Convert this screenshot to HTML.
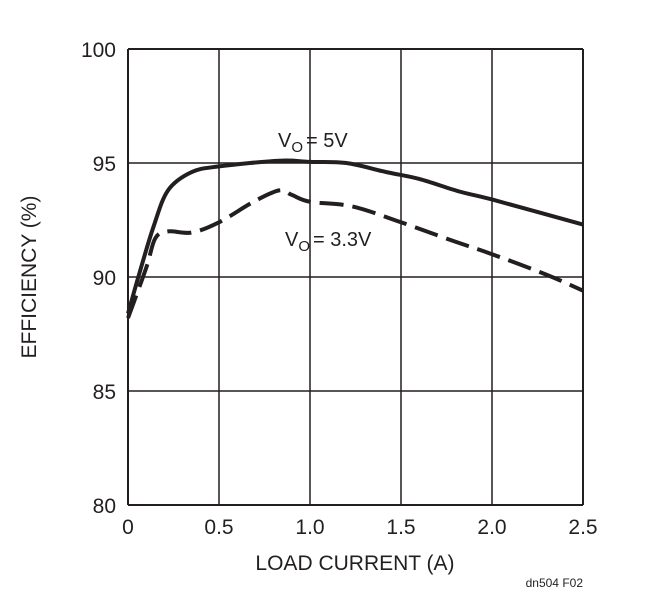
<!DOCTYPE html>
<html><head><meta charset="utf-8"><style>
body{margin:0;background:#fff;}
svg text{font-family:"Liberation Sans",sans-serif;fill:#231f20;}
</style></head><body>
<svg width="657" height="600" viewBox="0 0 657 600" id="chart">
<rect x="0" y="0" width="657" height="600" fill="#fff"/>
<g id="grid"></g>
<g id="ticks"></g>
<g id="series"></g>
<text x="355" y="570" font-size="21" text-anchor="middle">LOAD CURRENT (A)</text>
<text transform="translate(36,277) rotate(-90)" font-size="21" text-anchor="middle">EFFICIENCY (%)</text>
<text x="278" y="147" font-size="20">V<tspan font-size="15" dy="5">O</tspan><tspan dy="-5" dx="3">= 5V</tspan></text>
<text x="285" y="246" font-size="20">V<tspan font-size="15" dy="5">O</tspan><tspan dy="-5" dx="3">= 3.3V</tspan></text>
<text x="583" y="587" font-size="12" text-anchor="end">dn504 F02</text>
</svg>
<script>
const xTicks=[0,0.5,1.0,1.5,2.0,2.5];
const xTickLabels=["0","0.5","1.0","1.5","2.0","2.5"];
const yTicks=[80,85,90,95,100];
const yTickLabels=["80","85","90","95","100"];
const x5=[0,0.064,0.14,0.22,0.35,0.5,0.83,1.0,1.2,1.42,1.6,1.82,2.0,2.5];
const y5=[88.4,90.2,92.2,93.8,94.6,94.85,95.1,95.05,95.0,94.6,94.3,93.75,93.4,92.3];
const x33=[0,0.1,0.15,0.22,0.35,0.5,0.69,0.83,0.9,1.0,1.23,1.5,1.78,2.0,2.3,2.5];
const y33=[88.2,90.4,91.7,92.0,91.95,92.4,93.3,93.8,93.6,93.3,93.1,92.4,91.6,91.0,90.1,89.4];
const L=128,R=583,T=49,B=505;
const sx=v=>L+(v-0)/(2.5)*(R-L);
const sy=v=>B-(v-80)/20*(B-T);
const NS="http://www.w3.org/2000/svg";
function mk(tag,parent,attrs){const e=document.createElementNS(NS,tag);for(const k in attrs)e.setAttribute(k,attrs[k]);parent.appendChild(e);return e;}
const grid=document.getElementById('grid'),ticks=document.getElementById('ticks'),series=document.getElementById('series');
xTicks.forEach((v,i)=>{
 const l=mk('line',grid,{x1:sx(v),x2:sx(v),y1:T,y2:B,stroke:'#231f20','stroke-width':(i==0||i==xTicks.length-1)?2:1.5});
 
 
 const t=mk('text',ticks,{x:sx(v),y:B+29,'font-size':21,'text-anchor':'middle'});
 t.textContent=xTickLabels[i];
 
 
});
yTicks.forEach((v,i)=>{
 const l=mk('line',grid,{x1:L,x2:R,y1:sy(v),y2:sy(v),stroke:'#231f20','stroke-width':(i==0||i==yTicks.length-1)?2:1.5});
 
 
 const t=mk('text',ticks,{x:L-12,y:sy(v)+8,'font-size':21,'text-anchor':'end'});
 t.textContent=yTickLabels[i];
 
 
});
function pathD(xs,ys){
 const p=xs.map((v,i)=>[sx(v),sy(ys[i])]);
 let d='M'+p[0][0]+','+p[0][1];
 for(let i=0;i<p.length-1;i++){
  const p0=p[i-1]||p[i],p1=p[i],p2=p[i+1],p3=p[i+2]||p2;
  const c1x=p1[0]+(p2[0]-p0[0])/6,c1y=p1[1]+(p2[1]-p0[1])/6;
  const c2x=p2[0]-(p3[0]-p1[0])/6,c2y=p2[1]-(p3[1]-p1[1])/6;
  d+=' C'+c1x+','+c1y+' '+c2x+','+c2y+' '+p2[0]+','+p2[1];
 }
 return d;
}
const s1=mk('path',series,{d:pathD(x33,y33),fill:'none',stroke:'#231f20','stroke-width':4,'stroke-dasharray':'24,9'});


const s2=mk('path',series,{d:pathD(x5,y5),fill:'none',stroke:'#231f20','stroke-width':4});


</script>
</body></html>
